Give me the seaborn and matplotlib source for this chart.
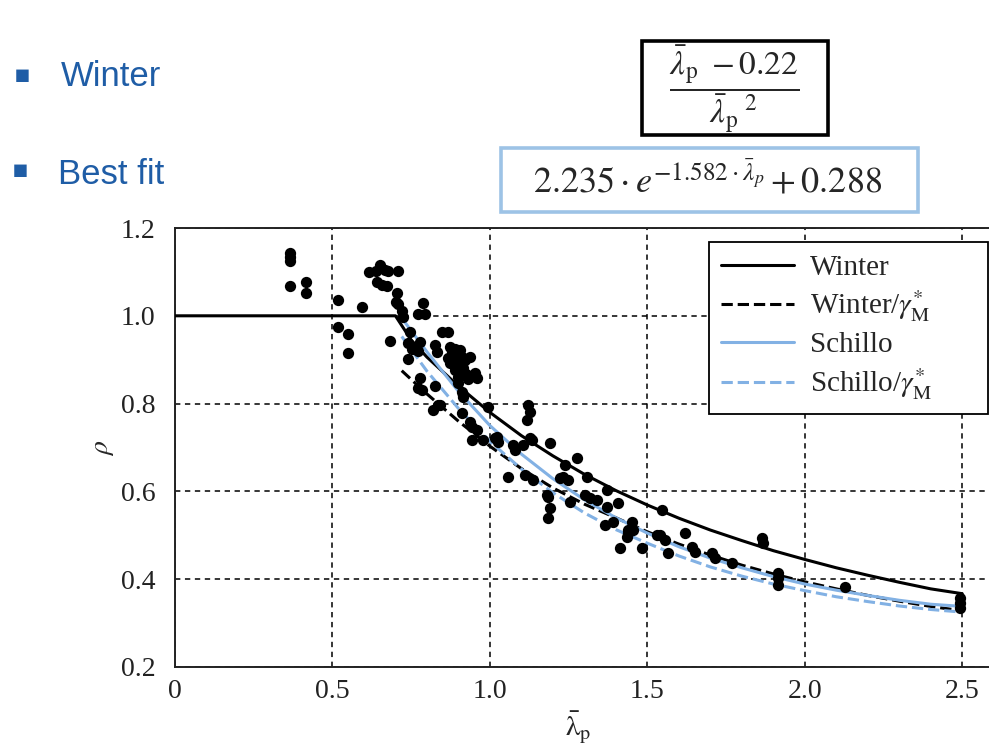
import numpy as np
import pandas as pd
import matplotlib
matplotlib.use("Agg")
import matplotlib.pyplot as plt
from matplotlib.patches import Rectangle
from matplotlib import font_manager
import seaborn as sns

# ---------------- data ----------------
pts_lambda = [0.365, 0.365, 0.365, 0.365, 0.416, 0.416, 0.517, 0.517, 0.549, 0.549,
              0.594, 0.616, 0.638, 0.651, 0.667, 0.676, 0.708, 0.641, 0.657, 0.673,
              0.705, 0.702, 0.708, 0.721, 0.724, 0.787, 0.771, 0.794, 0.683, 0.746,
              0.740, 0.778, 0.752, 0.740, 0.771, 0.848, 0.867, 0.825, 0.832,
              0.873, 0.889, 0.905, 0.879, 0.898, 0.911, 0.867, 0.889, 0.905, 0.921,
              0.873, 0.895, 0.914, 0.889, 0.905, 0.924, 0.898, 0.930,
              0.937, 0.952, 0.959, 0.778, 0.771, 0.784, 0.825, 0.841, 0.911, 0.914,
              0.994, 0.898, 0.914, 0.835, 0.819, 0.911, 0.937, 0.943, 0.959, 0.943,
              0.978, 1.016, 1.025, 1.022, 1.073, 1.079, 1.105, 1.133, 1.121, 1.127,
              1.117, 1.057, 1.111, 1.137, 1.181, 1.127, 1.190, 1.276, 1.238, 1.232,
              1.248, 1.222, 1.308, 1.371, 1.302, 1.317, 1.340, 1.406, 1.371, 1.184,
              1.190, 1.184, 1.254, 1.365, 1.451, 1.438, 1.435, 1.530, 1.390, 1.454,
              1.438, 1.413, 1.483, 1.546, 1.540, 1.556, 1.565, 1.619, 1.641, 1.651,
              1.705, 1.714, 1.768, 1.863, 1.867, 1.914, 1.914, 1.914, 2.127, 2.492,
              2.492, 2.492]
pts_rho = [1.142, 1.133, 1.124, 1.067, 1.076, 1.053, 1.037, 0.975, 0.959, 0.916,
           1.019, 1.099, 1.101, 1.115, 1.105, 1.103, 1.101, 1.076, 1.071, 1.067,
           1.053, 1.032, 1.026, 1.010, 0.998, 1.030, 1.005, 1.005, 0.943, 0.962,
           0.939, 0.941, 0.924, 0.902, 0.919, 0.962, 0.962, 0.934, 0.918,
           0.930, 0.925, 0.923, 0.918, 0.911, 0.907, 0.905, 0.900, 0.896, 0.900,
           0.893, 0.886, 0.882, 0.877, 0.873, 0.868, 0.861, 0.857,
           0.907, 0.870, 0.859, 0.859, 0.836, 0.832, 0.839, 0.797, 0.827, 0.816,
           0.793, 0.848, 0.820, 0.797, 0.786, 0.779, 0.759, 0.747, 0.740, 0.718,
           0.718, 0.722, 0.713, 0.725, 0.706, 0.695, 0.706, 0.718, 0.797, 0.782,
           0.763, 0.633, 0.638, 0.626, 0.592, 0.722, 0.711, 0.677, 0.661, 0.633,
           0.626, 0.631, 0.633, 0.604, 0.592, 0.585, 0.581, 0.574, 0.565, 0.588,
           0.563, 0.540, 0.576, 0.524, 0.531, 0.512, 0.496, 0.501, 0.531, 0.512,
           0.506, 0.471, 0.471, 0.558, 0.501, 0.490, 0.460, 0.506, 0.474, 0.462,
           0.460, 0.449, 0.437, 0.494, 0.483, 0.414, 0.403, 0.387, 0.382, 0.357,
           0.346, 0.335]

winter_lambda = [0.0, 0.70, 0.75, 0.80, 0.90, 1.00, 1.10, 1.20, 1.30, 1.40, 1.50,
                 1.60, 1.70, 1.80, 1.90, 2.00, 2.10, 2.20, 2.30, 2.40, 2.50]
winter_rho = [1.000, 1.000, 0.945, 0.906, 0.840, 0.780, 0.727, 0.681, 0.639, 0.602,
              0.569, 0.539, 0.512, 0.488, 0.465, 0.445, 0.426, 0.409, 0.393, 0.378, 0.367]

curve_lambda = [0.72, 0.80, 0.90, 1.00, 1.10, 1.20, 1.30, 1.40, 1.50, 1.60, 1.70, 1.80,
                1.90, 2.00, 2.10, 2.20, 2.30, 2.40, 2.50]
winter_g_rho = [0.875, 0.822, 0.760, 0.703, 0.652, 0.608, 0.571, 0.540, 0.508, 0.480,
                0.455, 0.432, 0.412, 0.394, 0.378, 0.363, 0.350, 0.338, 0.328]
schillo_rho = [0.995, 0.918, 0.828, 0.750, 0.685, 0.629, 0.581, 0.540, 0.505, 0.474,
               0.448, 0.426, 0.406, 0.389, 0.375, 0.363, 0.352, 0.343, 0.338]
schillo_g_rho = [0.953, 0.874, 0.789, 0.714, 0.651, 0.597, 0.551, 0.513, 0.482, 0.453,
                 0.428, 0.407, 0.389, 0.374, 0.360, 0.349, 0.339, 0.331, 0.325]

legend_labels = ["Winter", r"Winter/$\gamma^{*}_{\mathrm{M}}$", "Schillo",
                 r"Schillo/$\gamma^{*}_{\mathrm{M}}$"]
x_ticks = [0, 0.5, 1.0, 1.5, 2.0, 2.5]
x_ticklabels = ["0", "0.5", "1.0", "1.5", "2.0", "2.5"]
y_ticks = [0.2, 0.4, 0.6, 0.8, 1.0, 1.2]
y_ticklabels = ["0.2", "0.4", "0.6", "0.8", "1.0", "1.2"]

# ---------------- style ----------------
sns.set_theme(style="white")
plt.rcParams["font.family"] = ["Liberation Serif", "DejaVu Serif"]
plt.rcParams["mathtext.fontset"] = "stix"

BLUE_TXT = "#1F5DA6"
LIGHT_BLUE = "#82B1E4"
W, H = 989, 747

fig = plt.figure(figsize=(W / 100, H / 100), dpi=100)
ax = fig.add_axes([175 / W, 1 - 667 / H, (989 - 175) / W, (667 - 228) / H])

# curves
sns.lineplot(x=winter_lambda, y=winter_rho, color="black", lw=2.2, ax=ax,
             label=legend_labels[0], zorder=4)
sns.lineplot(x=curve_lambda, y=winter_g_rho, color="black", lw=2.2, ls="--", ax=ax,
             label=legend_labels[1], zorder=4)
sns.lineplot(x=curve_lambda, y=schillo_rho, color=LIGHT_BLUE, lw=2.2, ax=ax,
             label=legend_labels[2], zorder=4)
sns.lineplot(x=curve_lambda, y=schillo_g_rho, color=LIGHT_BLUE, lw=2.2, ls="--", ax=ax,
             label=legend_labels[3], zorder=4)
# data points
sns.scatterplot(x=pts_lambda, y=pts_rho, color="black", s=66, linewidth=0, ax=ax,
                zorder=5, legend=False)

ax.set_xlim(0, 2.585)
ax.set_ylim(0.2, 1.2)
ax.set_xticks(x_ticks)
ax.set_xticklabels(x_ticklabels)
ax.set_yticks(y_ticks)
ax.set_yticklabels(y_ticklabels)
ax.tick_params(axis="both", length=0, labelsize=20, colors="#222222")
ax.tick_params(axis="y", pad=14)
ax.tick_params(axis="x", pad=9)
ax.grid(True, color="black", ls=(0, (3.5, 3)), lw=1.1)
for side in ["left", "bottom", "top"]:
    ax.spines[side].set_visible(True)
    ax.spines[side].set_color("#222222")
    ax.spines[side].set_linewidth(1.4)
ax.spines["right"].set_visible(False)

ax.set_ylabel(r"$\rho$", fontsize=20, rotation=90)
ax.yaxis.set_label_coords(-0.072, 0.5)
ax.set_xlabel(r"$\bar{\mathrm{\lambda}}_{\mathrm{p}}$", fontsize=21)
ax.xaxis.set_label_coords(0.495, -0.097)

handles, labels = ax.get_legend_handles_labels()
leg = ax.legend(handles, labels, loc="upper left",
                bbox_to_anchor=(0.656, 0.0, 0.343, 0.968), mode="expand",
                borderaxespad=0, frameon=True, fancybox=False, edgecolor="black",
                framealpha=1, fontsize=21, handlelength=2.5, handletextpad=0.55,
                labelspacing=0.27, borderpad=0.42)
leg.get_frame().set_linewidth(1.3)

# ---------------- header annotations ----------------
names = {f.name for f in font_manager.fontManager.ttflist}
if "Liberation Sans Narrow" in names:
    head_family, head_size = "Liberation Sans Narrow", 29
else:
    head_family, head_size = "Liberation Sans", 25

def fx(px):
    return px / W

def fy(py):
    return 1 - py / H

fig.text(fx(22), fy(75), "\u25aa", color=BLUE_TXT, fontsize=18, ha="center", va="center",
         family=["DejaVu Sans"])
fig.text(fx(61), fy(76), "Winter", color=BLUE_TXT, fontsize=head_size, ha="left",
         va="center", family=[head_family, "Liberation Sans"])
fig.text(fx(20), fy(170), "\u25aa", color=BLUE_TXT, fontsize=18, ha="center", va="center",
         family=["DejaVu Sans"])
fig.text(fx(58), fy(174), "Best fit", color=BLUE_TXT, fontsize=head_size, ha="left",
         va="center", family=[head_family, "Liberation Sans"])

# box 1: Winter formula
fig.patches.append(Rectangle((fx(642), fy(135)), (828 - 642) / W, (135 - 41) / H,
                             transform=fig.transFigure, fill=False, edgecolor="black",
                             lw=2.6, figure=fig))
fig.text(fx(734), fy(89),
         r"$\dfrac{\bar{\lambda}_{\mathrm{p}}\ -0.22}{{\bar{\lambda}_{\mathrm{p}}}^{\ 2}}$",
         fontsize=24, ha="center", va="center")

# box 2: best-fit formula
fig.patches.append(Rectangle((fx(501), fy(212)), (918 - 501) / W, (212 - 148) / H,
                             transform=fig.transFigure, fill=False, edgecolor="#9DC3E6",
                             lw=2.6, figure=fig))
fig.text(fx(708), fy(181),
         r"$2.235\cdot e^{-1.582\cdot\bar{\lambda}_p}+0.288$",
         fontsize=26, ha="center", va="center")

fig.savefig("out.png", dpi=100)
